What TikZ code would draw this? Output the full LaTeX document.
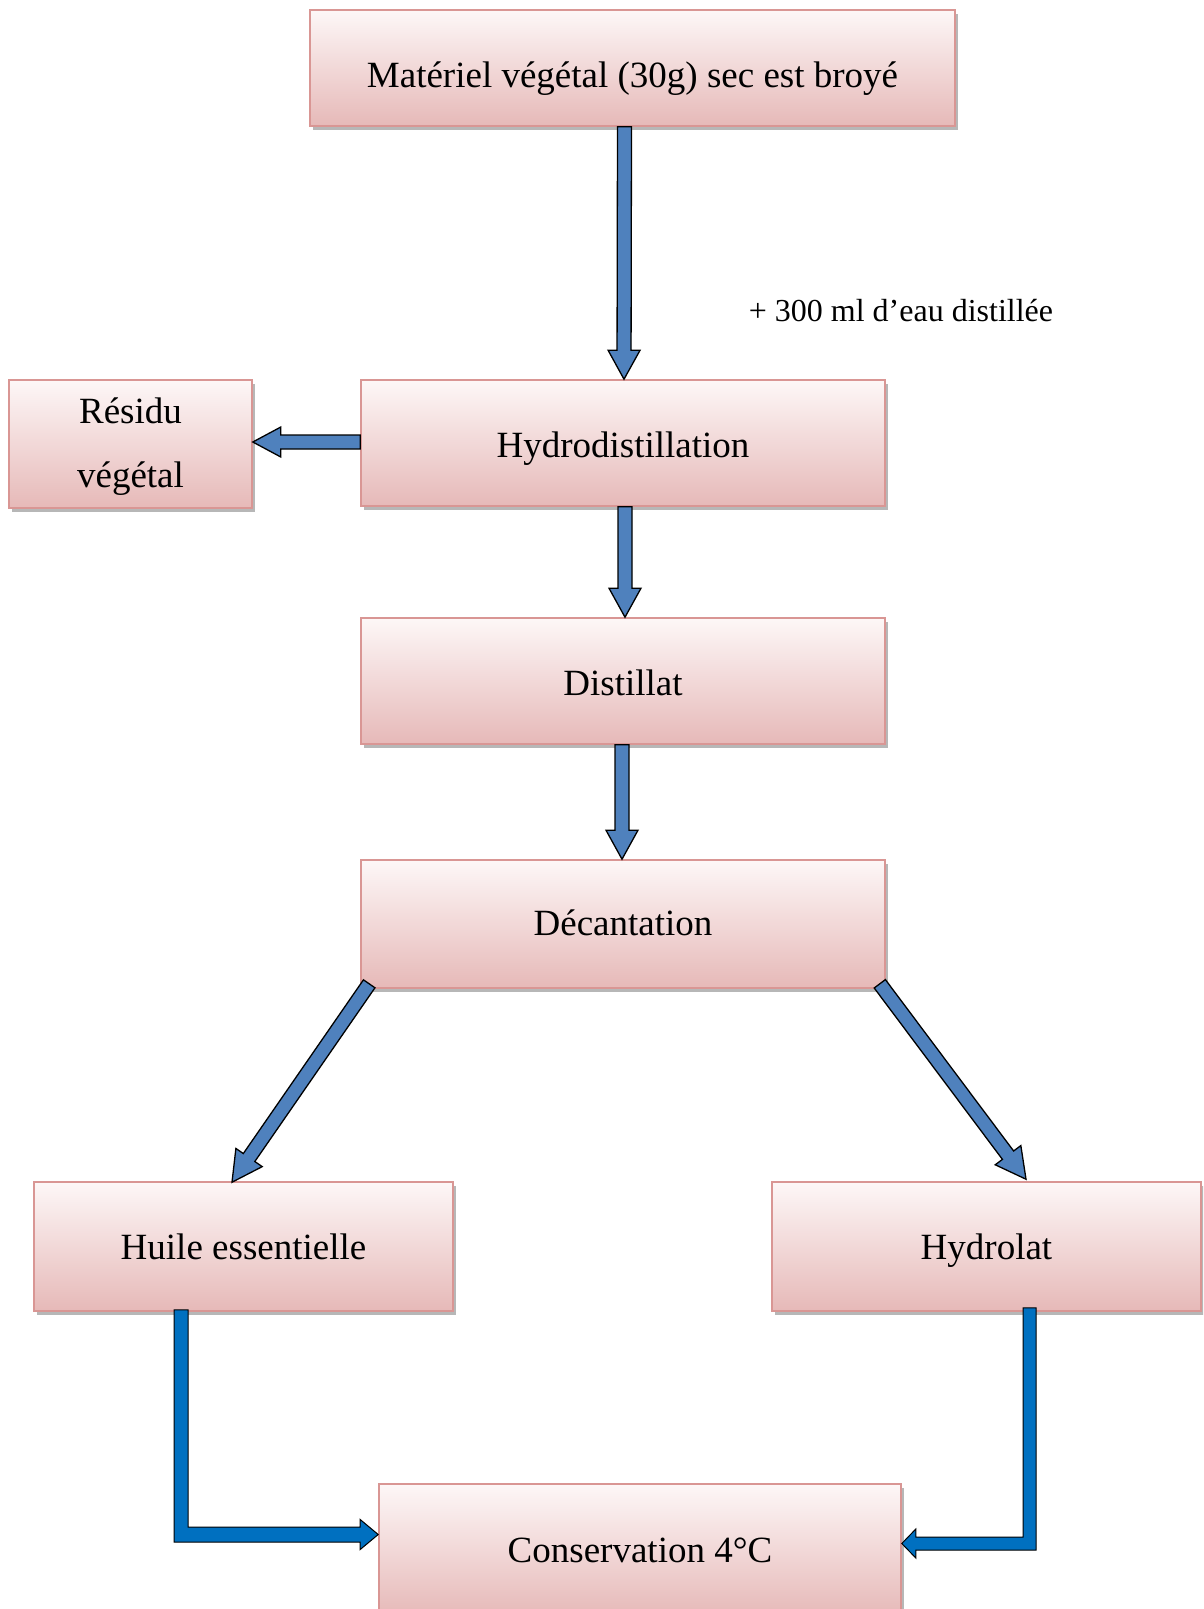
\documentclass[tikz,border=0pt]{standalone}
\usepackage{fontspec}
\setmainfont{Liberation Serif}
\usetikzlibrary{calc,shadows}
\definecolor{boxtop}{HTML}{FDF7F7}
\definecolor{boxbot}{HTML}{E6B9B8}
\definecolor{boxline}{HTML}{D99694}
\definecolor{arrA}{HTML}{4F81BD}
\definecolor{arrB}{HTML}{0070C0}
\tikzset{
  box/.style={rectangle, draw=boxline, line width=1.6pt, shading=axis,
    top color=boxtop, bottom color=boxbot, inner sep=0pt,
    font=\fontsize{37}{44}\selectfont, align=center, text height=26pt, text depth=9pt,
    general shadow={fill=black!40, opacity=0.7, shadow xshift=3pt, shadow yshift=-4pt}},
  barrowstyle/.style={draw=black, line width=1.3pt, fill=arrA, line join=miter},
  elbowstyle/.style={draw=black, line width=1pt, fill=arrB, line join=miter},
}
\newcommand\blockarrow[6][]{%
  \coordinate (ba) at (#2); \coordinate (bb) at (#3);
  \coordinate (bh) at ($(bb)!#6!(ba)$);
  \draw[barrowstyle,#1] ($(ba)!#4!90:(bb)$) -- ($(bh)!#4!90:(bb)$) -- ($(bh)!#5!90:(bb)$) -- (bb)
    -- ($(bh)!#5!-90:(bb)$) -- ($(bh)!#4!-90:(bb)$) -- ($(ba)!#4!-90:(bb)$) -- cycle;
}
\begin{document}
\begin{tikzpicture}[x=1pt,y=-1pt]
\useasboundingbox (0,0) rectangle (1203,1609);
\clip (0,0) rectangle (1203,1609);
\fill[white] (0,0) rectangle (1203,1609);

\node[box, minimum width=645, minimum height=116, text height=48pt] (top) at (632.5,68) {Matériel végétal (30g) sec est broyé};
\node[box, minimum width=524, minimum height=126, text height=38pt] (hydro) at (623,443) {Hydrodistillation};
\node[box, minimum width=243, minimum height=128, font=\fontsize{37}{64}\selectfont, text height=, text depth=] (residu) at (130.5,444) {\rule{0pt}{30pt}Résidu\\végétal};
\node[box, minimum width=524, minimum height=126, text height=37pt] (distil) at (623,681) {Distillat};
\node[box, minimum width=524, minimum height=128, text height=31pt] (decant) at (623,924) {Décantation};
\node[box, minimum width=419, minimum height=129, text height=35pt] (huile) at (243.5,1246.5) {Huile essentielle};
\node[box, minimum width=429, minimum height=129, text height=35pt] (hydrolat) at (986.5,1246.5) {Hydrolat};
\node[box, minimum width=522, minimum height=132, text height=28pt, text depth=4pt] (cons) at (640,1550) {Conservation 4°C};

\node[font=\fontsize{32}{38}\selectfont] (eau) at (901,311) {+ 300 ml d’eau distillée};

% block arrows
\blockarrow{$(top.south)+(-8,0)$}{$(hydro.north)+(1,0)$}{7pt}{16pt}{29pt}
\blockarrow{$(hydro.south)+(2,0)$}{$(distil.north)+(2,0)$}{7pt}{16pt}{29pt}
\blockarrow{$(distil.south)+(-1,0)$}{$(decant.north)+(-1,0)$}{7pt}{16pt}{29pt}
\blockarrow{$(hydro.west)+(0,-1)$}{$(residu.east |- hydro.west)+(0,-1)$}{7pt}{15pt}{28pt}
\blockarrow{$(decant.south west)+(9,-5)$}{$(huile.north)+(-11.5,1)$}{7pt}{16pt}{30pt}
\blockarrow{$(decant.south east)+(-6,-5)$}{$(hydrolat.north)+(39.5,-2)$}{7pt}{16pt}{30pt}

% elbow arrows to Conservation
\coordinate (la) at ($(huile.south)+(-62.5,-2)$);
\coordinate (lt) at (cons.west |- 0,1534.5);
\draw[elbowstyle] ($(la)+(-7,0)$) -- ($(la)+(7,0)$) -- ($(la |- lt)+(7,-7.5)$) -- ($(lt)+(-18,-7.5)$)
  -- ($(lt)+(-18,-15)$) -- (lt) -- ($(lt)+(-18,15)$) -- ($(lt)+(-18,7.5)$) -- ($(la |- lt)+(-7,7.5)$) -- cycle;

\coordinate (ra) at ($(hydrolat.south)+(43,-4)$);
\coordinate (rt) at (cons.east |- 0,1543.5);
\draw[elbowstyle] ($(ra)+(-6.5,0)$) -- ($(ra)+(6.5,0)$) -- ($(ra |- rt)+(6.5,6.5)$) -- ($(rt)+(14,6.5)$)
  -- ($(rt)+(14,14.5)$) -- (rt) -- ($(rt)+(14,-14.5)$) -- ($(rt)+(14,-6.5)$) -- ($(ra |- rt)+(-6.5,-6.5)$) -- cycle;
\end{tikzpicture}
\end{document}
